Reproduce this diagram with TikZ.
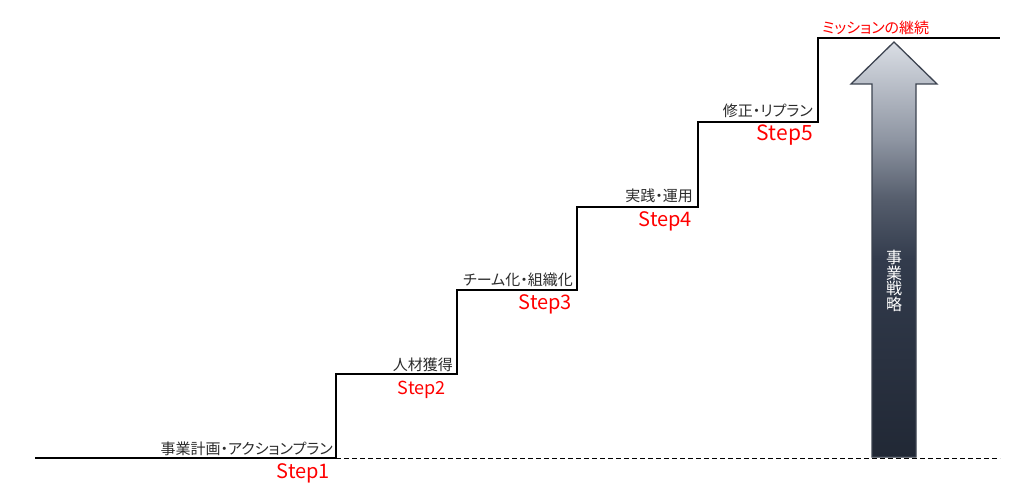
\documentclass[tikz,border=0pt]{standalone}
\usepackage{fontspec}
\setmainfont{Noto Sans CJK JP}[RawFeature=+palt]
\usetikzlibrary{positioning}

\definecolor{labelgray}{HTML}{2B2B2B}
\definecolor{arrowlight}{HTML}{DADEE5}
\definecolor{arrowupper}{HTML}{8E95A2}
\definecolor{arrowmid}{HTML}{555D6C}
\definecolor{arrowlow}{HTML}{323B4C}
\definecolor{arrowdark}{HTML}{212835}
\definecolor{arrowedge}{HTML}{3C4350}
\pgfdeclareverticalshading{strategyshade}{100bp}{%
  color(0bp)=(arrowdark); color(25bp)=(arrowdark); color(48.7bp)=(arrowlow);
  color(56bp)=(arrowmid); color(63.2bp)=(arrowupper); color(75bp)=(arrowlight);
  color(100bp)=(arrowlight)}

\begin{document}
\begin{tikzpicture}[x=1pt, y=-1pt,
    stair/.style={line width=2pt, line join=miter},
    guide/.style={dash pattern=on 5pt off 3pt, line width=0.9pt},
    task/.style={font=\fontsize{15}{15}\selectfont, text=labelgray, inner sep=0pt, anchor=base east},
    steplabel/.style={font=\fontsize{20}{20}\selectfont, text=red, inner sep=0pt, anchor=base east},
    strategy/.style={shading=strategyshade, draw=arrowedge, line width=1.3pt, line join=miter},
    vlabel/.style={font=\fontsize{16}{15.5}\selectfont, text=white, align=center, inner sep=0pt}
  ]
  \useasboundingbox (0,0) rectangle (1034,500);

  % stairs
  \draw[guide] (336,458) -- (1000,458);
  \draw[stair] (35,458) -- (336,458) -- (336,374) -- (457,374) -- (457,290)
    -- (577,290) -- (577,207) -- (698,207) -- (698,122) -- (818,122)
    -- (818,38) -- (1000,38);

  % arrow
  \path[strategy] (894,42) -- (937,84) -- (916,84) -- (916,457) -- (872,457)
    -- (872,84) -- (851,84) -- cycle;
  \node[vlabel] (strat) at (894,281) {事\\業\\戦\\略};

  \node[task] (plan) at (333,454) {事業計画・アクションプラン};
  \node[task] (hire) at (453,370) {人材獲得};
  \node[task] (team) at (573,285) {チーム化・組織化};
  \node[task] (run) at (693,201) {実践・運用};
  \node[task] (replan) at (813,117) {修正・リプラン};
  \node[task, text=red, anchor=base west] (mission) at (822,34) {ミッションの継続};

  \node[steplabel] (s1) at (330,478) {Step1};
  \node[steplabel, font=\fontsize{18}{18}\selectfont] (s2) at (446,394) {Step2};
  \node[steplabel] (s3) at (572,309) {Step3};
  \node[steplabel] (s4) at (692,226) {Step4};
  \node[steplabel, font=\fontsize{21}{21}\selectfont] (s5) at (813,141) {Step5};
\end{tikzpicture}
\end{document}
